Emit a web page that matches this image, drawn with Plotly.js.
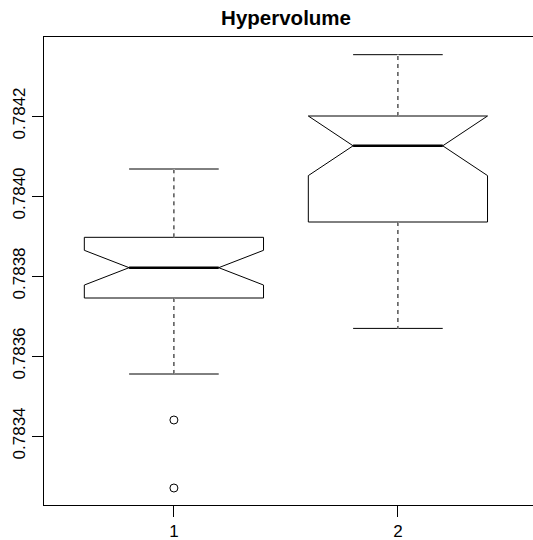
<!DOCTYPE html>
<html>
<head>
<meta charset="utf-8">
<script src="https://cdn.plot.ly/plotly-3.0.1.min.js"></script>
<style>html,body{margin:0;padding:0;background:#fff;}#chart{width:533px;height:540px;}</style>
</head>
<body>
<div id="chart"></div>
<script>
// ---- data ----
var groups      = [1, 2];
var groupLabels = ['1', '2'];
var lowerWhisker = [0.783555, 0.783669];
var q1Values     = [0.783745, 0.783935];
var medians      = [0.7838208, 0.7841255];
var q3Values     = [0.7838967, 0.7842];
var upperWhisker = [0.7840675, 0.7843533];
var notchSpans   = [0.0000434, 0.0000745];
var outlierGroup  = [1, 1];
var outlierValues = [0.78344, 0.78327];
var yTickValues = [0.7834, 0.7836, 0.7838, 0.7840, 0.7842];
var yTickLabels = ['0.7834', '0.7836', '0.7838', '0.7840', '0.7842'];

// ---- style constants ----
var BOX_W = 0.8, NOTCH_W = 0.25;
var medHalf = BOX_W / 2 * (1 - 2 * NOTCH_W);

var medX = [], medY = [], whX = [], whY = [];
groups.forEach(function (g, i) {
  medX.push(g - medHalf, g + medHalf, null);
  medY.push(medians[i], medians[i], null);
  whX.push(g, g, null, g, g, null);
  whY.push(q3Values[i], upperWhisker[i], null, q1Values[i], lowerWhisker[i], null);
});

var traces = [
  {
    type: 'box', x: groups,
    q1: q1Values, median: medians, q3: q3Values,
    lowerfence: lowerWhisker, upperfence: upperWhisker,
    notchspan: notchSpans, notched: true, notchwidth: NOTCH_W,
    width: BOX_W, whiskerwidth: 0.5, boxpoints: false,
    fillcolor: 'rgba(0,0,0,0)', line: {color: '#000', width: 1},
    showlegend: false, hoverinfo: 'skip'
  },
  { type: 'scatter', mode: 'lines', x: whX, y: whY,
    line: {color: '#fff', width: 2}, showlegend: false, hoverinfo: 'skip' },
  { type: 'scatter', mode: 'lines', x: whX, y: whY,
    line: {color: '#000', width: 1, dash: '4px,4px'}, showlegend: false, hoverinfo: 'skip' },
  { type: 'scatter', mode: 'lines', x: medX, y: medY,
    line: {color: '#000', width: 2.5}, showlegend: false, hoverinfo: 'skip' },
  { type: 'scatter', mode: 'markers', x: outlierGroup, y: outlierValues,
    marker: {symbol: 'circle-open', size: 8, color: '#000', line: {width: 1}},
    showlegend: false, hoverinfo: 'skip' }
];

var fontFam = '"Liberation Sans", Arial, Helvetica, sans-serif';
var layout = {
  width: 533, height: 540,
  margin: {l: 44, r: 0, t: 37, b: 35},
  paper_bgcolor: '#fff', plot_bgcolor: '#fff',
  font: {family: fontFam, size: 17, color: '#000'},
  title: {text: '<b>Hypervolume</b>', font: {family: fontFam, size: 20.5, color: '#000'},
          xref: 'paper', x: 0.495, xanchor: 'center',
          yref: 'container', y: 1 - 17.5 / 540, yanchor: 'middle'},
  xaxis: {range: [0.42, 0.42 + 489 / 224], tickvals: groups, ticktext: groupLabels,
          ticks: 'outside', ticklen: 11, tickcolor: '#000', tickwidth: 1,
          showline: true, mirror: true, linecolor: '#000', linewidth: 1,
          showgrid: false, zeroline: false, fixedrange: true},
  yaxis: {range: [0.7832275, 0.7843975], tickvals: yTickValues, ticktext: yTickLabels,
          tickangle: -90, ticks: 'outside', ticklen: 11, tickcolor: '#000', tickwidth: 1,
          showline: true, mirror: false, linecolor: '#000', linewidth: 1,
          showgrid: false, zeroline: false, fixedrange: true}
};

Plotly.newPlot('chart', traces, layout, {displayModeBar: false, staticPlot: true});
</script>
</body>
</html>
